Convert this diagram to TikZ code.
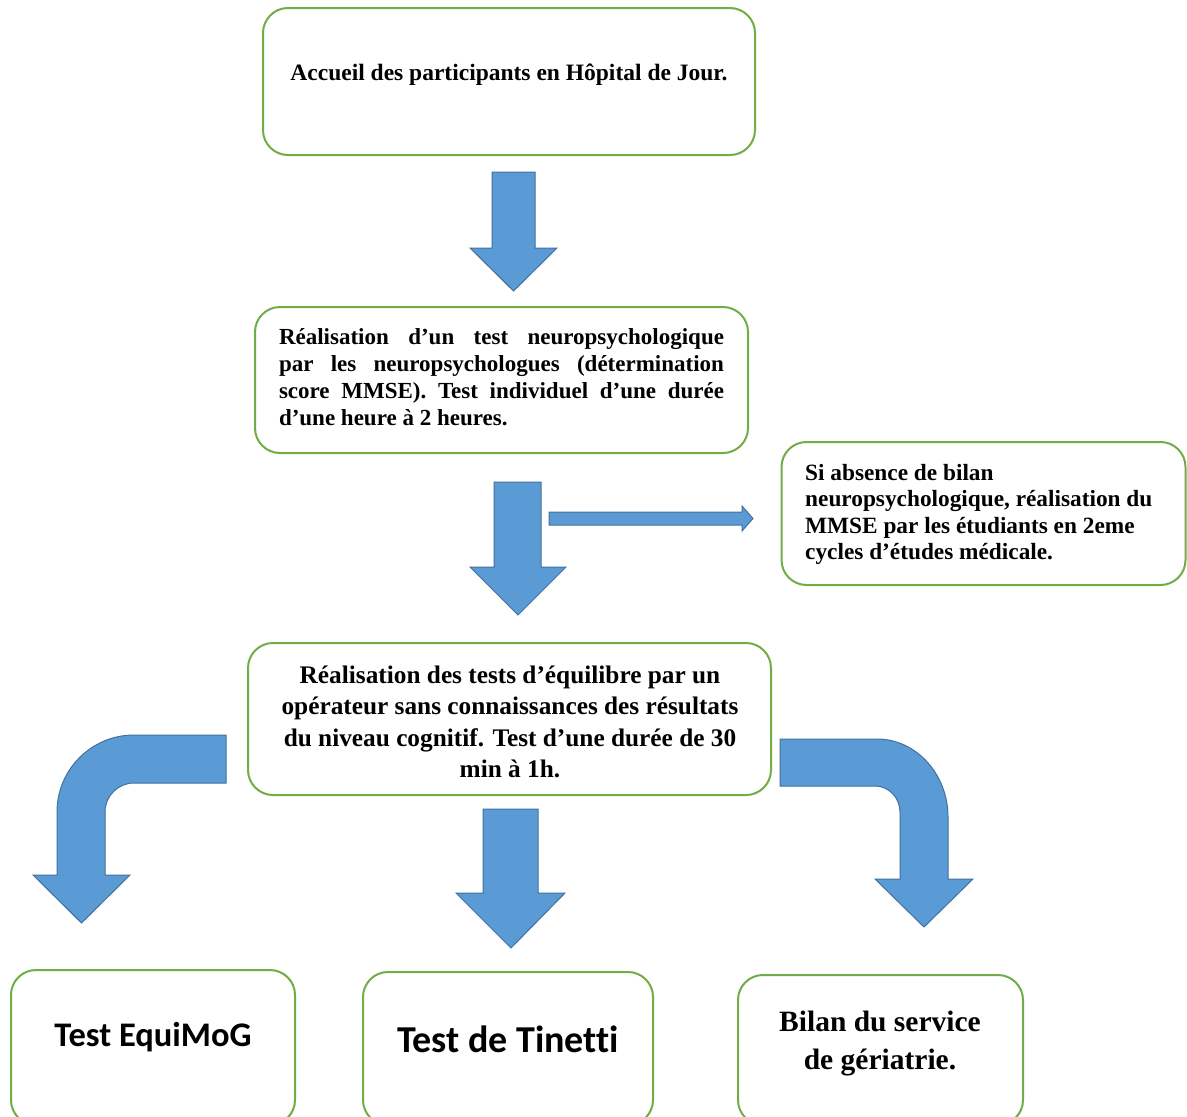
\documentclass[tikz,border=0pt]{standalone}
\usepackage{fontspec}
\setmainfont{Liberation Serif}
\newfontfamily\carlito[Ligatures=NoCommon]{Carlito}
\definecolor{boxgreen}{HTML}{70AD47}
\definecolor{arrowblue}{HTML}{5B9BD5}
\definecolor{arrowedge}{HTML}{41719C}
\begin{document}
\begin{tikzpicture}[x=1pt,y=-1pt,
  box/.style={draw=boxgreen, line width=2pt, rounded corners=25pt, fill=white, inner sep=0pt},
  blockarrow/.style={fill=arrowblue, draw=arrowedge, line width=1pt, line join=miter},
  txt/.style={inner sep=0pt}]
\useasboundingbox (0,0) rectangle (1187,1117);
\clip (0,0) rectangle (1187,1117);
\fill[white] (0,0) rectangle (1187,1117);

% boxes
\node[box, minimum width=492pt, minimum height=147pt] (b1) at (509,81.5) {};
\node[box, minimum width=493pt, minimum height=146pt] (b2) at (501.5,380) {};
\node[box, minimum width=404pt, minimum height=143pt] (b3) at (983.5,513.5) {};
\node[box, minimum width=523pt, minimum height=152pt] (b4) at (509.5,719) {};
\node[box, minimum width=284pt, minimum height=155pt] (b5) at (153,1047.5) {};
\node[box, minimum width=290pt, minimum height=153pt] (b6) at (508,1048.5) {};
\node[box, minimum width=285pt, minimum height=150pt] (b7) at (880.5,1050) {};

% texts
\node[txt, font={\fontsize{23.5}{28}\selectfont\bfseries}] (t1) at (509,75) {Accueil des participants en Hôpital de Jour.};
\node[txt, align=left, font={\fontsize{23}{27}\selectfont\bfseries}] (t2) at (501.5,377.5)
  {\makebox[445pt][s]{Réalisation d’un test neuropsychologique}\\
   \makebox[445pt][s]{par les neuropsychologues (détermination}\\
   \makebox[445pt][s]{score MMSE). Test individuel d’une durée}\\
   d’une heure à 2 heures.};
\node[txt, align=left, anchor=west, font={\fontsize{23.3}{26.5}\selectfont\bfseries}] (t3) at (805,514.5)
  {Si absence de bilan\\ neuropsychologique, réalisation du\\ MMSE par les étudiants en 2eme\\ cycles d’études médicale.};
\node[txt, align=center, font={\fontsize{25.3}{31.5}\selectfont\bfseries}] (t4) at (510,722)
  {Réalisation des tests d’équilibre par un\\ opérateur sans connaissances des résultats\\ du niveau cognitif. Test d’une durée de 30\\ min à 1h.};
\node[txt, font={\carlito\fontsize{34.5}{40}\selectfont\bfseries}] (t5) at (153,1037) {Test EquiMoG};
\node[txt, font={\carlito\fontsize{38}{44}\selectfont\bfseries}] (t6) at (508,1039) {Test de Tinetti};
\node[txt, align=center, font={\fontsize{29.5}{38}\selectfont\bfseries}] (t7) at (880,1044) {Bilan du service\\ de gériatrie.};

% block arrows
\draw[blockarrow] (492,172) -- (535,172) -- (535,248) -- (557,248) -- (513.5,291) -- (470,248) -- (492,248) -- cycle;
\draw[blockarrow] (494,482) -- (541,482) -- (541,567) -- (566,567) -- (518,615) -- (470,567) -- (494,567) -- cycle;
\draw[blockarrow] (483,809) -- (538,809) -- (538,893) -- (565,893) -- (511,948) -- (456,893) -- (483,893) -- cycle;
\draw[blockarrow] (549,512) -- (742,512) -- (742,506) -- (753,518.5) -- (742,531) -- (742,525) -- (549,525) -- cycle;
\draw[blockarrow] (226,735) -- (134,735) .. controls (91.5,735) and (57,769.5) .. (57,812) -- (57,875) -- (33,875) -- (81.5,923) -- (130,875) -- (105,875) -- (105,812) .. controls (105,796) and (118,783) .. (134,783) -- (226,783) -- cycle;
\draw[blockarrow] (780,739) -- (877,739) .. controls (916,739) and (948,774) .. (948,817) -- (948,879) -- (973,879) -- (924,927) -- (875,879) -- (900,879) -- (900,812) .. controls (900,798) and (889,786) .. (875,786) -- (780,786) -- cycle;
\end{tikzpicture}
\end{document}
